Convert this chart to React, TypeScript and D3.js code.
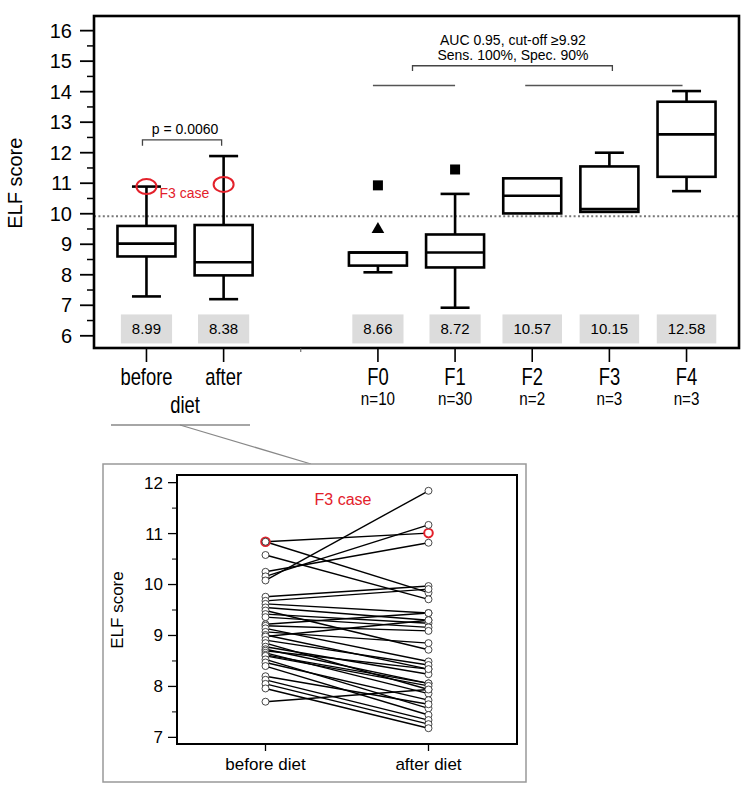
import React from 'react';
import * as d3 from 'd3';

// top panel: ELF score by diet status and fibrosis stage
const categories = ['before', 'after', 'gap', 'F0', 'F1', 'F2', 'F3', 'F4'];
const boxGroups = ['before', 'after', 'F0', 'F1', 'F2', 'F3', 'F4'];
const whiskerLow = [7.29, 7.2, 8.08, 6.92, null, null, 10.74];
const q1 = [8.6, 7.98, 8.3, 8.24, 10.01, 10.06, 11.21];
const medians = [9.02, 8.41, 8.73, 8.73, 10.59, 10.15, 12.6];
const q3 = [9.6, 9.63, 8.73, 9.32, 11.16, 11.55, 13.67];
const whiskerHigh = [10.89, 11.89, null, 10.65, null, 12.0, 14.02];
const meanLabels = ['8.99', '8.38', '8.66', '8.72', '10.57', '10.15', '12.58'];
const axisLabels = ['before', 'after', 'F0', 'F1', 'F2', 'F3', 'F4'];
const nLabels = ['', '', 'n=10', 'n=30', 'n=2', 'n=3', 'n=3'];
const squareOutliers = [{ g: 'F0', v: 10.93 }, { g: 'F1', v: 11.45 }];
const triangleOutliers = [{ g: 'F0', v: 9.49 }];
const f3Case = [{ g: 'before', v: 10.89 }, { g: 'after', v: 10.96 }];
const cutOff = 9.92;
const yTicks = [6, 7, 8, 9, 10, 11, 12, 13, 14, 15, 16];

// bottom panel: paired values before / after diet
const pairLabels = ['before diet', 'after diet'];
const beforeDiet = [10.84, 10.84, 10.58, 10.25, 10.16, 10.08, 9.76, 9.68, 9.62, 9.55, 9.49, 9.42, 9.36, 9.22, 9.19, 9.14, 9.07, 9.01, 8.98, 8.91, 8.85, 8.78, 8.73, 8.7, 8.66, 8.62, 8.6, 8.53, 8.47, 8.4, 8.2, 8.13, 8.05, 7.96, 7.7];
const afterDiet = [11.01, 9.84, 9.71, 10.82, 11.17, 11.84, 9.97, 9.91, 9.44, 9.3, 8.72, 9.24, 9.16, 9.44, 9.09, 8.49, 8.85, 8.34, 9.3, 8.42, 7.94, 8.24, 8.06, 8.34, 7.86, 8.06, 8.01, 7.57, 7.73, 7.44, 7.65, 7.34, 7.26, 7.18, 7.94];
const lowerTicks = [7, 8, 9, 10, 11, 12];

const FONT = 'Liberation Sans, Arial, sans-serif';
const RED = '#e3212b';

// condensed look of the category labels
const Narrow: React.FC<{ x: number; y: number; size: number; children: React.ReactNode }> = ({ x, y, size, children }) => (
  <text transform={`translate(${x},${y}) scale(0.8,1)`} textAnchor="middle" fontSize={size}>{children}</text>
);

const App: React.FC = () => {
  const x = d3.scalePoint().domain(categories).range([94, 739]).padding(0.68);
  const y = d3.scaleLinear().domain([5.6, 16.48]).range([348, 16]);
  const xl = d3.scalePoint().domain(pairLabels).range([177, 517]).padding(0.543);
  const yl = d3.scaleLinear().domain([6.87, 12.15]).range([744, 475]);

  const bw = 29;
  const cap = 14.5;
  const minorTop = d3.range(5.5, 16.5, 0.5).filter(v => v >= 5.6 && !Number.isInteger(v));
  const minorLow = d3.range(7.5, 12, 1);

  const xb = x('before')!, xa = x('after')!;
  const groupLeft = (x('F0')! + x('F1')!) / 2;
  const groupRight = (x('F2')! + x('F4')!) / 2;

  return (
    <svg width={750} height={791} style={{ position: 'absolute', left: 0, top: 0, background: '#fff' }} fontFamily={FONT}>
      {/* ---------- top panel ---------- */}
      <line x1={94} x2={739} y1={y(cutOff)} y2={y(cutOff)} stroke="#777" strokeWidth={2} strokeDasharray="2 2.4" />

      {yTicks.map(t => (
        <g key={t}>
          <line x1={80} x2={94} y1={y(t)} y2={y(t)} stroke="#000" strokeWidth={1.8} />
          <text x={72} y={y(t)} dy="0.35em" textAnchor="end" fontSize={20}>{t}</text>
        </g>
      ))}
      {minorTop.map(t => (
        <line key={t} x1={87} x2={94} y1={y(t)} y2={y(t)} stroke="#000" strokeWidth={1.5} />
      ))}
      <text transform={`translate(22,${y(11)}) rotate(-90)`} textAnchor="middle" fontSize={20}>ELF score</text>

      {boxGroups.map((g, i) => {
        const cx = x(g)!;
        const label = meanLabels[i];
        const lw = (label.length - 1) * 8.34 + 4.17 + 22;
        return (
          <g key={g}>
            <rect x={cx - lw / 2} y={y(6.7)} width={lw} height={y(5.75) - y(6.7)} fill="#dcdcdc" />
            <text x={cx} y={y(6.22)} dy="0.35em" textAnchor="middle" fontSize={15}>{label}</text>
            {whiskerHigh[i] != null && (
              <g stroke="#000" strokeWidth={2.6}>
                <line x1={cx} x2={cx} y1={y(q3[i])} y2={y(whiskerHigh[i]!)} />
                <line x1={cx - cap} x2={cx + cap} y1={y(whiskerHigh[i]!)} y2={y(whiskerHigh[i]!)} />
              </g>
            )}
            {whiskerLow[i] != null && (
              <g stroke="#000" strokeWidth={2.6}>
                <line x1={cx} x2={cx} y1={y(q1[i])} y2={y(whiskerLow[i]!)} />
                <line x1={cx - cap} x2={cx + cap} y1={y(whiskerLow[i]!)} y2={y(whiskerLow[i]!)} />
              </g>
            )}
            <rect x={cx - bw} y={y(q3[i])} width={bw * 2} height={y(q1[i]) - y(q3[i])} fill="#fff" stroke="#000" strokeWidth={2.6} />
            <line x1={cx - bw} x2={cx + bw} y1={y(medians[i])} y2={y(medians[i])} stroke="#000" strokeWidth={2.6} />
          </g>
        );
      })}

      {squareOutliers.map((o, i) => (
        <rect key={i} x={x(o.g)! - 5} y={y(o.v) - 5} width={10} height={10} fill="#000" />
      ))}
      {triangleOutliers.map((o, i) => (
        <path key={i} d={d3.symbol(d3.symbolTriangle, 70)()!} transform={`translate(${x(o.g)},${y(o.v)})`} fill="#000" />
      ))}
      {f3Case.map((o, i) => (
        <ellipse key={i} cx={x(o.g)!} cy={y(o.v)} rx={10} ry={7.5} fill="none" stroke={RED} strokeWidth={2} />
      ))}
      <text x={xb + 13} y={y(10.66)} dy="0.35em" fontSize={14} fill={RED}>F3 case</text>

      {/* p-value bracket */}
      <path d={`M${xb - 4},${y(12.23)}V${y(12.42)}H${xa - 2}V${y(12.23)}`} fill="none" stroke="#444" strokeWidth={1.3} />
      <text x={(xb + xa) / 2} y={y(12.62)} textAnchor="middle" fontSize={14}>p = 0.0060</text>

      {/* AUC bracket */}
      <line x1={x('F0')! - 5} x2={x('F1')!} y1={y(14.2)} y2={y(14.2)} stroke="#555" strokeWidth={1.5} />
      <line x1={x('F2')! - 7} x2={x('F4')! - 4} y1={y(14.2)} y2={y(14.2)} stroke="#555" strokeWidth={1.5} />
      <path d={`M${groupLeft - 4},${y(14.68)}V${y(14.85)}H${groupRight + 3}V${y(14.68)}`} fill="none" stroke="#444" strokeWidth={1.3} />
      <text x={(groupLeft + groupRight) / 2} y={y(15.53)} textAnchor="middle" fontSize={14}>AUC 0.95,  cut-off ≥9.92</text>
      <text x={(groupLeft + groupRight) / 2} y={y(15.04)} textAnchor="middle" fontSize={14}>Sens. 100%, Spec. 90%</text>

      <rect x={94} y={16} width={645} height={332} fill="none" stroke="#000" strokeWidth={2.6} />

      {/* x axis labels */}
      {boxGroups.map((g, i) => (
        <g key={g}>
          <line x1={x(g)!} x2={x(g)!} y1={348} y2={362} stroke="#000" strokeWidth={1.6} />
          <Narrow x={x(g)!} y={385} size={23}>{axisLabels[i]}</Narrow>
          {nLabels[i] && <Narrow x={x(g)!} y={405} size={19}>{nLabels[i]}</Narrow>}
        </g>
      ))}
      <line x1={x('gap')!} x2={x('gap')!} y1={348} y2={352} stroke="#555" strokeWidth={1} />
      <Narrow x={(xb + xa) / 2} y={413} size={23}>diet</Narrow>

      {/* connector to detail panel */}
      <line x1={111} x2={250} y1={425} y2={425} stroke="#888" strokeWidth={1.5} />
      <line x1={180} x2={311} y1={425} y2={464} stroke="#888" strokeWidth={1.3} />

      {/* ---------- bottom panel ---------- */}
      <rect x={103} y={464} width={423} height={318} fill="#fff" stroke="#999" strokeWidth={1.5} />

      {lowerTicks.map(t => (
        <g key={t}>
          <line x1={168} x2={177} y1={yl(t)} y2={yl(t)} stroke="#000" strokeWidth={1.3} />
          <text x={163} y={yl(t)} dy="0.35em" textAnchor="end" fontSize={17}>{t}</text>
        </g>
      ))}
      {minorLow.map(t => (
        <line key={t} x1={172} x2={177} y1={yl(t)} y2={yl(t)} stroke="#000" strokeWidth={1} />
      ))}
      <text transform={`translate(123,${yl(9.5)}) rotate(-90)`} textAnchor="middle" fontSize={17}>ELF score</text>

      {beforeDiet.map((b, i) => (
        <line key={i} x1={xl('before diet')!} x2={xl('after diet')!} y1={yl(b)} y2={yl(afterDiet[i])} stroke="#000" strokeWidth={1.4} />
      ))}
      {beforeDiet.map((b, i) => (
        <circle key={'b' + i} cx={xl('before diet')!} cy={yl(b)} r={i === 0 ? 4.3 : 3.5}
          fill="#fff" stroke={i === 0 ? RED : '#333'} strokeWidth={i === 0 ? 2 : 0.9} />
      ))}
      {afterDiet.map((a, i) => (
        <circle key={'a' + i} cx={xl('after diet')!} cy={yl(a)} r={i === 0 ? 4.3 : 3.5}
          fill="#fff" stroke={i === 0 ? RED : '#333'} strokeWidth={i === 0 ? 2 : 0.9} />
      ))}
      <text x={343} y={505} textAnchor="middle" fontSize={16} fill={RED}>F3 case</text>

      <rect x={177} y={475} width={340} height={269} fill="none" stroke="#000" strokeWidth={2} />
      {pairLabels.map(p => (
        <g key={p}>
          <line x1={xl(p)!} x2={xl(p)!} y1={744} y2={751} stroke="#000" strokeWidth={1.3} />
          <text x={xl(p)!} y={770} textAnchor="middle" fontSize={17}>{p}</text>
        </g>
      ))}
    </svg>
  );
};

export default App;
